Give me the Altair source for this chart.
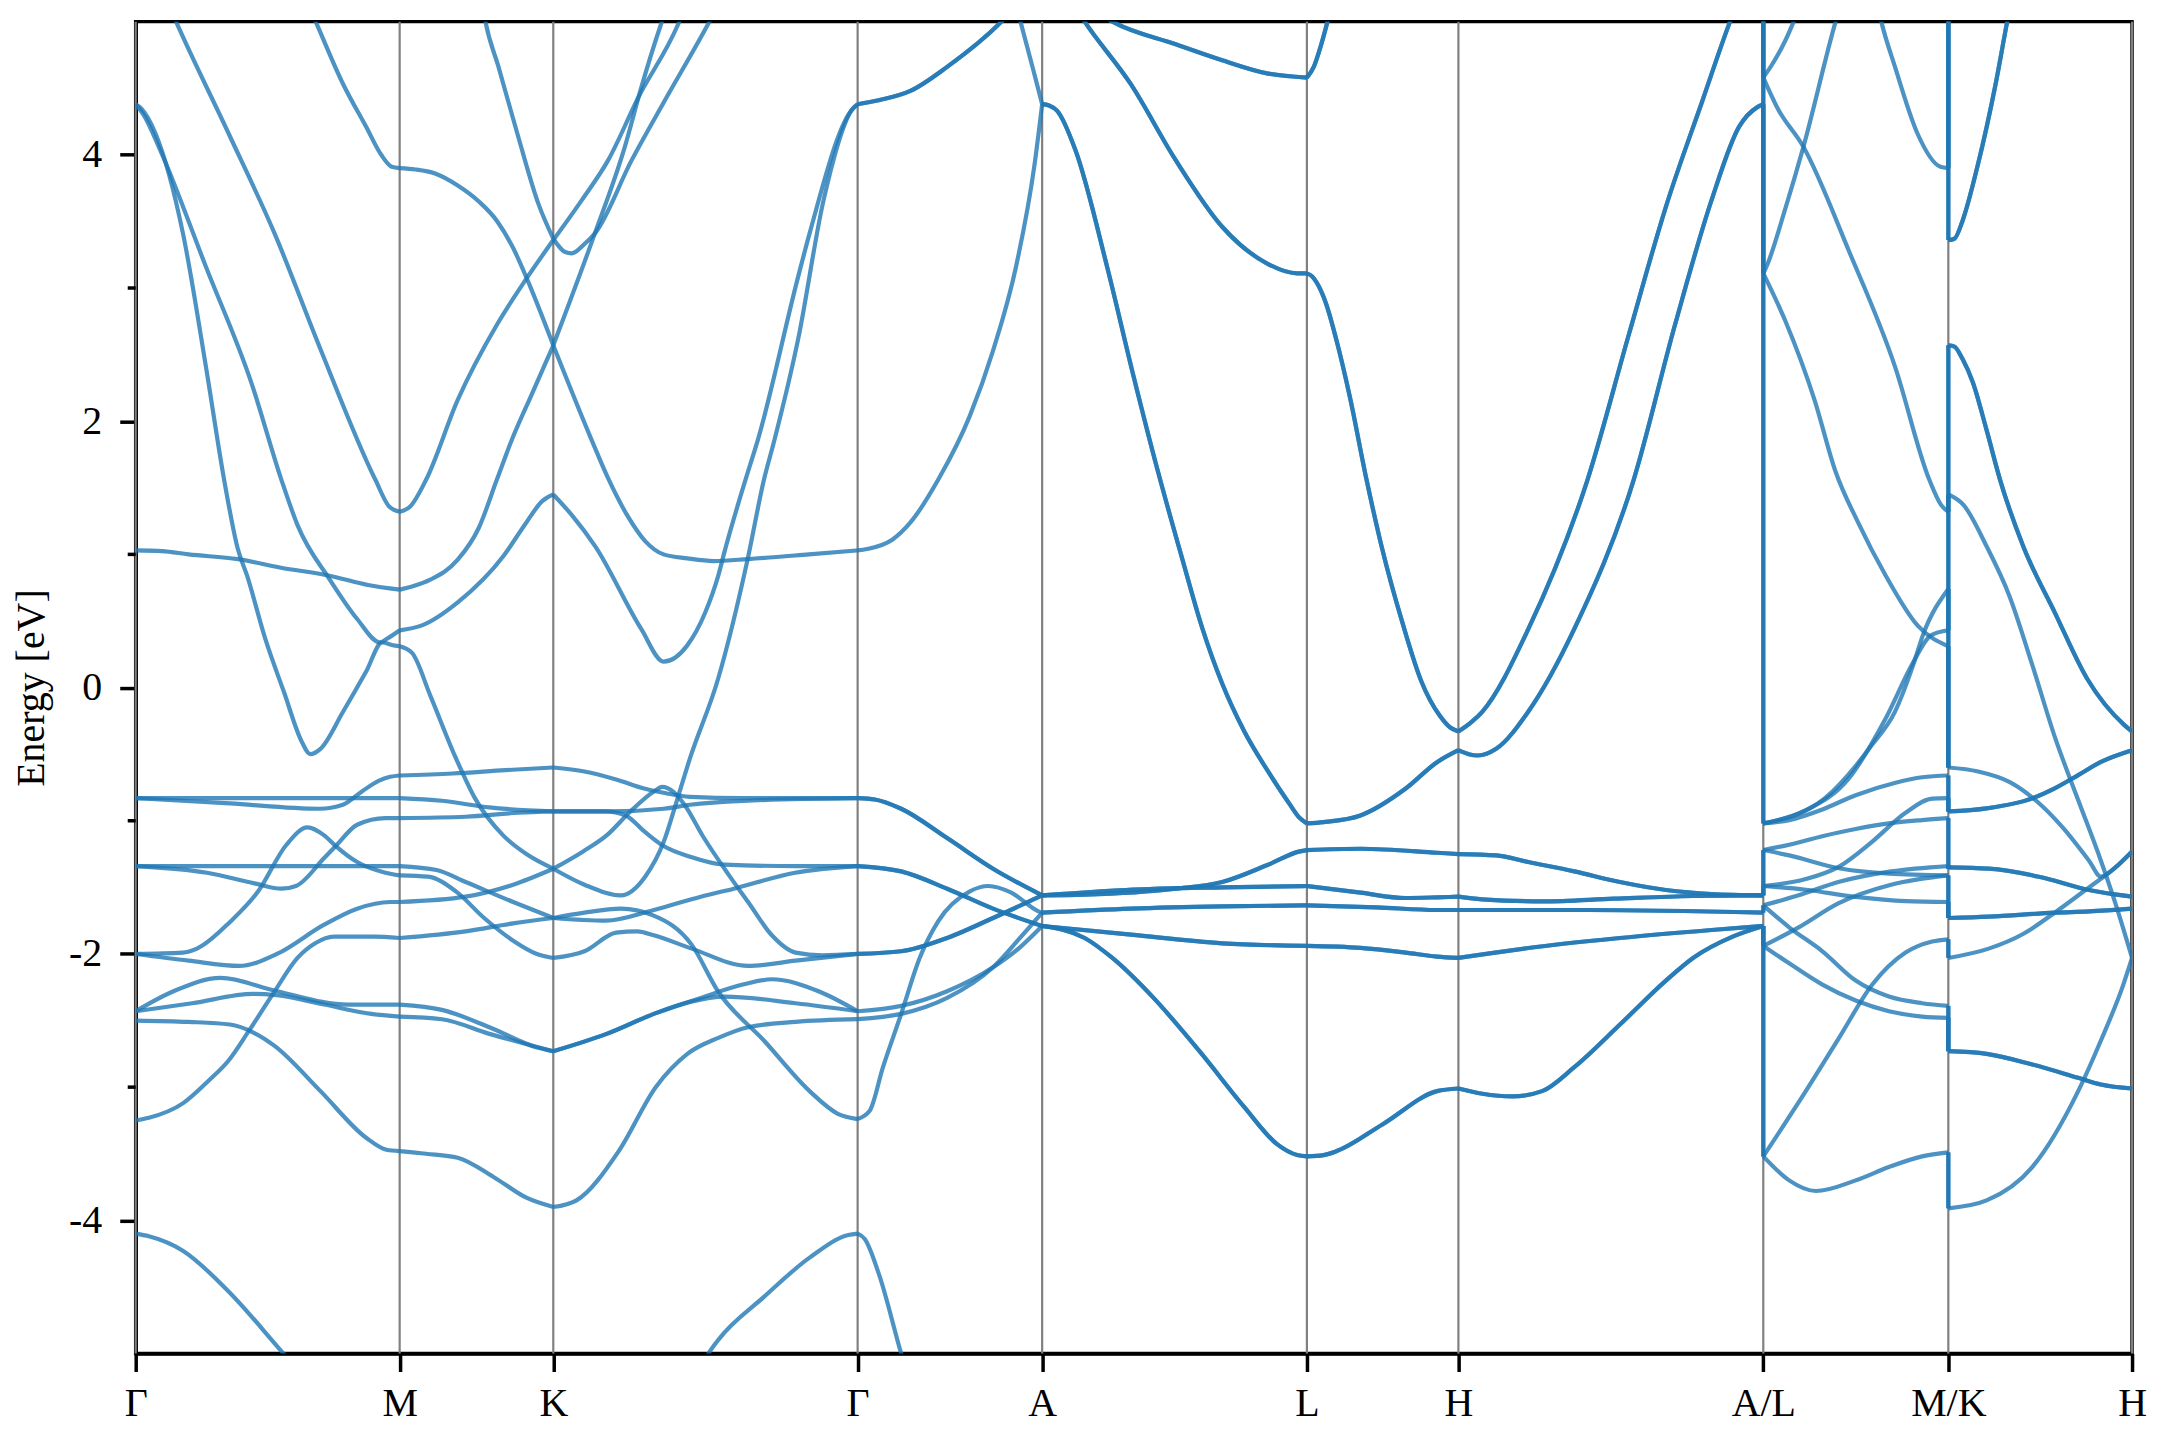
import altair as alt
import pandas as pd

# ---------------- high-symmetry path ----------------
TICK_POS = [0.0, 1.0, 1.582, 2.735, 3.434, 4.437, 5.011, 6.166, 6.867, 7.563]
TICK_LABELS = ["Γ", "M", "K", "Γ", "A", "L", "H", "A/L", "M/K", "H"]
Y_MAJOR = [-4, -2, 0, 2, 4]
Y_MINOR = [-3, -1, 1, 3]

# each band piece: (degeneracy, [(k, E), ...])
GAMMA_M = [
    (1, [(0, 4.38), (0.02, 4.35), (0.075, 4.16), (0.179, 3.41), (0.266, 2.41), (0.335, 1.56), (0.387, 1.04), (0.422, 0.84), (0.491, 0.365), (0.561, -0.03), (0.63, -0.41), (0.661, -0.5), (0.70, -0.46), (0.786, -0.18), (0.873, 0.12), (0.934, 0.34), (0.97, 0.32), (1.0, 0.31)]),
    (1, [(0, 4.38), (0.03, 4.3), (0.094, 4.03), (0.266, 3.16), (0.438, 2.29), (0.552, 1.56), (0.613, 1.22), (0.734, 0.815), (0.839, 0.515), (0.925, 0.34), (0.955, 0.37), (1.0, 0.43)]),
    (1, [(0.12, 5.15), (0.153, 5.0), (0.352, 4.16), (0.526, 3.41), (0.70, 2.54), (0.908, 1.56), (0.96, 1.36), (1.0, 1.32)]),
    (1, [(0.64, 5.19), (0.682, 5.0), (0.786, 4.53), (0.873, 4.21), (0.93, 4.0), (0.97, 3.91), (1.0, 3.9)]),
    (1, [(0, 1.03), (0.1, 1.025), (0.2, 1.0), (0.387, 0.964), (0.55, 0.9), (0.734, 0.84), (0.88, 0.77), (1.0, 0.735)]),
    (1, [(0, -0.83), (0.5, -0.83), (1.0, -0.83)]),
    (1, [(0, -0.83), (0.357, -0.87), (0.696, -0.91), (0.785, -0.88), (0.857, -0.78), (0.92, -0.7), (0.964, -0.67), (1.0, -0.66)]),
    (1, [(0, -1.34), (0.5, -1.34), (1.0, -1.34)]),
    (1, [(0, -1.34), (0.27, -1.39), (0.45, -1.47), (0.553, -1.51), (0.607, -1.49), (0.714, -1.28), (0.758, -1.19), (0.839, -1.03), (0.946, -0.98), (1.0, -0.98)]),
    (1, [(0, -2.0), (0.178, -1.99), (0.232, -1.96), (0.357, -1.76), (0.464, -1.53), (0.571, -1.18), (0.651, -1.05), (0.714, -1.11), (0.758, -1.19), (0.839, -1.31), (0.946, -1.39), (1.0, -1.41)]),
    (1, [(0, -2.0), (0.2, -2.05), (0.393, -2.09), (0.535, -2.0), (0.714, -1.78), (0.839, -1.66), (0.964, -1.61), (1.0, -1.61)]),
    (1, [(0, -2.43), (0.143, -2.28), (0.321, -2.18), (0.535, -2.28), (0.803, -2.38), (1.0, -2.38)]),
    (1, [(0, -2.43), (0.214, -2.37), (0.446, -2.30), (0.535, -2.31), (0.714, -2.38), (0.892, -2.45), (1.0, -2.47)]),
    (1, [(0, -2.5), (0.2, -2.51), (0.357, -2.53), (0.446, -2.59), (0.526, -2.69), (0.70, -3.03), (0.873, -3.38), (0.95, -3.47), (1.0, -3.48)]),
    (1, [(0, -3.25), (0.05, -3.23), (0.18, -3.12), (0.277, -2.95), (0.352, -2.8), (0.428, -2.58), (0.52, -2.3), (0.613, -2.03), (0.68, -1.92), (0.75, -1.87), (0.9, -1.87), (1.0, -1.88)]),
    (1, [(0, -4.1), (0.05, -4.12), (0.18, -4.23), (0.35, -4.53), (0.56, -5.0), (0.65, -5.2)]),
]

M_K = [
    (1, [(1.0, 3.9), (1.06, 3.89), (1.134, 3.86), (1.22, 3.77), (1.30, 3.65), (1.37, 3.5), (1.43, 3.3), (1.48, 3.08), (1.582, 2.57)]),
    (1, [(1.0, 1.32), (1.04, 1.36), (1.1, 1.56), (1.22, 2.16), (1.37, 2.73), (1.48, 3.07), (1.582, 3.36)]),
    (1, [(1.0, 0.735), (1.05, 0.76), (1.116, 0.81), (1.22, 0.96), (1.30, 1.2), (1.368, 1.56), (1.425, 1.86), (1.5, 2.2), (1.582, 2.57)]),
    (1, [(1.0, 0.43), (1.082, 0.465), (1.22, 0.64), (1.394, 0.99), (1.48, 1.24), (1.54, 1.4), (1.582, 1.45)]),
    (1, [(1.0, 0.31), (1.047, 0.26), (1.116, -0.06), (1.213, -0.53), (1.285, -0.83), (1.392, -1.11), (1.48, -1.25), (1.582, -1.36)]),
    (1, [(1.0, -0.66), (1.2, -0.645), (1.4, -0.62), (1.582, -0.60)]),
    (1, [(1.0, -0.83), (1.16, -0.85), (1.34, -0.9), (1.582, -0.93)]),
    (1, [(1.0, -0.98), (1.25, -0.97), (1.45, -0.94), (1.582, -0.93)]),
    (1, [(1.0, -1.34), (1.14, -1.37), (1.25, -1.46), (1.43, -1.61), (1.582, -1.73)]),
    (1, [(1.0, -1.41), (1.107, -1.42), (1.213, -1.53), (1.32, -1.73), (1.43, -1.9), (1.52, -2.0), (1.582, -2.03)]),
    (1, [(1.0, -1.61), (1.25, -1.57), (1.43, -1.48), (1.582, -1.36)]),
    (1, [(1.0, -1.88), (1.25, -1.83), (1.43, -1.77), (1.582, -1.73)]),
    (1, [(1.0, -2.38), (1.16, -2.42), (1.34, -2.55), (1.517, -2.70), (1.582, -2.73)]),
    (1, [(1.0, -2.47), (1.16, -2.49), (1.34, -2.6), (1.582, -2.73)]),
    (1, [(1.0, -3.48), (1.1, -3.5), (1.22, -3.53), (1.36, -3.68), (1.48, -3.83), (1.582, -3.90)]),
    (1, [(1.30, 5.3), (1.325, 5.0), (1.3745, 4.66), (1.45, 4.13), (1.526, 3.63), (1.582, 3.37)]),
]

K_GAMMA = [
    (1, [(1.582, 3.37), (1.627, 3.27), (1.652, 3.26), (1.70, 3.33), (1.74, 3.41), (1.879, 3.96), (2.005, 4.41), (2.168, 4.98), (2.2, 5.1)]),
    (1, [(1.582, 3.36), (1.69, 3.66), (1.79, 3.96), (1.904, 4.43), (2.055, 4.98), (2.08, 5.1)]),
    (1, [(1.582, 2.57), (1.727, 1.86), (1.79, 1.57), (1.86, 1.3), (1.93, 1.1), (2.0, 1.0), (2.09, 0.97), (2.19, 0.95), (2.32, 0.965), (2.55, 1.0), (2.735, 1.03)]),
    (1, [(1.582, 2.57), (1.734, 3.38), (1.853, 4.06), (1.916, 4.51), (1.99, 4.98), (2.02, 5.15)]),
    (1, [(1.582, 1.45), (1.65, 1.3), (1.741, 1.06), (1.915, 0.44), (2.0, 0.195), (2.089, 0.315), (2.158, 0.565), (2.207, 0.84), (2.232, 1.03), (2.31, 1.56), (2.357, 1.86), (2.509, 3.08), (2.553, 3.41), (2.71, 4.33), (2.735, 4.38)]),
    (1, [(1.582, -1.36), (1.70, -1.48), (1.838, -1.56), (1.93, -1.42), (2.0, -1.16), (2.05, -0.85), (2.1, -0.53), (2.207, 0.07), (2.319, 0.97), (2.38, 1.56), (2.42, 1.86), (2.509, 2.61), (2.606, 3.66), (2.718, 4.35), (2.735, 4.38)]),
    (1, [(1.582, -0.60), (1.7, -0.63), (1.82, -0.69), (1.93, -0.76), (2.0, -0.79), (2.1, -0.82), (2.3, -0.83), (2.735, -0.83)]),
    (1, [(1.582, -0.93), (1.8, -0.93), (2.0, -0.91), (2.1, -0.88), (2.3, -0.85), (2.735, -0.83)]),
    (1, [(1.582, -0.93), (1.78, -0.93), (1.856, -0.96), (1.927, -1.08), (2.0, -1.19), (2.1, -1.27), (2.23, -1.33), (2.5, -1.34), (2.735, -1.34)]),
    (1, [(1.582, -1.36), (1.695, -1.23), (1.784, -1.11), (1.874, -0.93), (1.963, -0.78), (1.995, -0.745), (2.035, -0.78), (2.079, -0.88), (2.15, -1.12), (2.248, -1.41), (2.32, -1.61), (2.41, -1.86), (2.5, -1.99), (2.6, -2.01), (2.735, -2.0)]),
    (1, [(1.582, -1.73), (1.78, -1.75), (1.963, -1.67), (2.141, -1.57), (2.266, -1.51), (2.498, -1.39), (2.735, -1.34)]),
    (1, [(1.582, -1.73), (1.7, -1.69), (1.838, -1.66), (1.96, -1.71), (2.106, -1.93), (2.206, -2.28), (2.38, -2.65), (2.553, -3.03), (2.66, -3.2), (2.735, -3.24)]),
    (1, [(1.582, -2.03), (1.7, -1.98), (1.82, -1.84), (1.90, -1.83), (1.963, -1.86), (2.106, -1.96), (2.32, -2.09), (2.5, -2.05), (2.735, -2.0)]),
    (1, [(1.582, -2.73), (1.784, -2.60), (1.963, -2.45), (2.1, -2.36), (2.23, -2.32), (2.5, -2.37), (2.735, -2.43)]),
    (1, [(1.582, -2.73), (1.784, -2.6), (1.963, -2.45), (2.141, -2.33), (2.3, -2.23), (2.41, -2.19), (2.587, -2.28), (2.735, -2.43)]),
    (1, [(1.582, -3.90), (1.67, -3.85), (1.83, -3.48), (1.97, -3.0), (2.09, -2.75), (2.207, -2.63), (2.32, -2.55), (2.5, -2.51), (2.735, -2.49)]),
    (1, [(2.12, -5.2), (2.17, -5.0), (2.206, -4.9), (2.38, -4.575), (2.553, -4.28), (2.70, -4.11), (2.735, -4.1)]),
]

GAMMA_A = [
    (2, [(2.735, 4.38), (2.815, 4.41), (2.935, 4.48), (3.074, 4.66), (3.28, 5.0), (3.434, 5.35)]),
    (1, [(3.31, 5.3), (3.352, 5.0), (3.40, 4.64), (3.434, 4.38)]),
    (1, [(2.735, 1.03), (2.77, 1.04), (2.866, 1.11), (2.935, 1.24), (3.04, 1.56), (3.16, 2.04), (3.248, 2.53), (3.335, 3.16), (3.404, 3.91), (3.434, 4.38)]),
    (2, [(2.735, -0.83), (2.8, -0.84), (2.9, -0.91), (3.074, -1.13), (3.248, -1.36), (3.434, -1.56)]),
    (2, [(2.735, -1.34), (2.9, -1.38), (3.074, -1.51), (3.248, -1.66), (3.434, -1.79)]),
    (2, [(2.735, -2.0), (2.9, -1.98), (3.074, -1.88), (3.248, -1.73), (3.434, -1.56)]),
    (1, [(2.735, -2.43), (2.9, -2.39), (3.074, -2.28), (3.248, -2.1), (3.35, -1.95), (3.434, -1.79)]),
    (1, [(2.735, -2.49), (2.9, -2.45), (3.074, -2.33), (3.248, -2.1), (3.35, -1.88), (3.434, -1.69)]),
    (1, [(2.735, -3.24), (2.78, -3.18), (2.831, -2.85), (2.9, -2.45), (2.97, -2.03), (3.04, -1.755), (3.16, -1.53), (3.23, -1.49), (3.317, -1.54), (3.42, -1.68), (3.434, -1.69)]),
    (1, [(2.735, -4.1), (2.762, -4.14), (2.815, -4.4), (2.9, -5.0), (2.93, -5.2)]),
]

A_L = [
    (2, [(3.434, 4.38), (3.46, 4.37), (3.491, 4.33), (3.561, 4.03), (3.68, 3.16), (3.78, 2.34), (3.873, 1.62), (3.96, 1.0), (4.04, 0.45), (4.116, 0.03), (4.2, -0.33), (4.29, -0.63), (4.37, -0.87), (4.41, -0.98), (4.437, -1.02)]),
    (2, [(3.434, 5.45), (3.55, 5.2), (3.70, 5.0), (3.94, 4.83), (4.116, 4.71), (4.29, 4.61), (4.437, 4.58)]),
    (2, [(3.434, 5.5), (3.50, 5.3), (3.595, 5.0), (3.77, 4.53), (3.94, 3.96), (4.116, 3.46), (4.29, 3.18), (4.40, 3.11), (4.437, 3.11)]),
    (2, [(3.434, -1.56), (3.595, -1.555), (3.94, -1.51), (4.116, -1.46), (4.29, -1.33), (4.41, -1.23), (4.437, -1.22)]),
    (2, [(3.434, -1.56), (3.75, -1.52), (4.116, -1.5), (4.437, -1.49)]),
    (2, [(3.434, -1.69), (3.77, -1.66), (4.116, -1.643), (4.437, -1.635)]),
    (2, [(3.434, -1.79), (3.77, -1.855), (4.116, -1.92), (4.437, -1.94)]),
    (2, [(3.434, -1.79), (3.595, -1.88), (3.70, -2.03), (3.856, -2.33), (4.03, -2.73), (4.2, -3.15), (4.325, -3.43), (4.40, -3.51), (4.437, -3.52)]),
]

L_H = [
    (2, [(4.437, 4.58), (4.463, 4.66), (4.49, 4.82), (4.515, 5.0), (4.54, 5.2)]),
    (2, [(4.437, 3.11), (4.455, 3.09), (4.48, 3.02), (4.51, 2.88), (4.55, 2.6), (4.6, 2.18), (4.663, 1.56), (4.72, 1.06), (4.8, 0.48), (4.87, 0.05), (4.94, -0.21), (4.98, -0.3), (5.011, -0.33)]),
    (2, [(4.437, -1.02), (4.5, -1.01), (4.64, -0.96), (4.81, -0.76), (4.93, -0.56), (5.011, -0.47)]),
    (2, [(4.437, -1.22), (4.64, -1.21), (4.93, -1.24), (5.011, -1.25)]),
    (2, [(4.437, -1.49), (4.64, -1.54), (4.81, -1.58), (4.93, -1.575), (5.011, -1.57)]),
    (2, [(4.437, -1.635), (4.7, -1.65), (4.93, -1.67), (5.011, -1.67)]),
    (2, [(4.437, -1.94), (4.64, -1.955), (4.81, -1.99), (4.93, -2.02), (5.011, -2.03)]),
    (2, [(4.437, -3.52), (4.50, -3.51), (4.55, -3.48), (4.723, -3.28), (4.93, -3.03), (5.011, -3.01)]),
]

H_A = [
    (2, [(5.011, -0.33), (5.06, -0.26), (5.102, -0.18), (5.276, 0.44), (5.5, 1.56), (5.658, 2.66), (5.797, 3.61), (5.936, 4.41), (6.04, 5.0), (6.1, 5.3)]),
    (2, [(5.011, -0.47), (5.05, -0.5), (5.085, -0.51), (5.154, -0.46), (5.276, -0.18), (5.45, 0.44), (5.675, 1.56), (5.831, 2.72), (5.97, 3.66), (6.074, 4.21), (6.145, 4.36), (6.166, 4.38)]),
    (2, [(5.011, -1.25), (5.154, -1.26), (5.276, -1.31), (5.45, -1.38), (5.623, -1.46), (5.797, -1.52), (5.97, -1.55), (6.166, -1.56)]),
    (2, [(5.011, -1.57), (5.1, -1.59), (5.33, -1.605), (5.6, -1.585), (5.9, -1.565), (6.166, -1.56)]),
    (2, [(5.011, -1.67), (5.5, -1.67), (6.166, -1.69)]),
    (2, [(5.011, -2.03), (5.15, -1.99), (5.276, -1.955), (5.623, -1.88), (5.97, -1.82), (6.166, -1.79)]),
    (2, [(5.011, -3.01), (5.102, -3.05), (5.215, -3.07), (5.328, -3.03), (5.45, -2.85), (5.623, -2.53), (5.797, -2.2), (5.9, -2.03), (6.05, -1.87), (6.166, -1.79)]),
]

L_M = [
    (1, [(6.166, 4.58), (6.2, 4.68), (6.25, 4.86), (6.281, 5.0), (6.32, 5.2)]),
    (1, [(6.166, 4.58), (6.22, 4.35), (6.318, 4.06), (6.49, 3.28), (6.665, 2.41), (6.795, 1.56), (6.84, 1.37), (6.867, 1.32)]),
    (1, [(6.166, 3.11), (6.178, 3.16), (6.25, 3.6), (6.318, 4.06), (6.44, 5.0), (6.47, 5.2)]),
    (1, [(6.166, 3.11), (6.25, 2.75), (6.36, 2.16), (6.44, 1.62), (6.525, 1.24), (6.63, 0.84), (6.751, 0.465), (6.867, 0.31)]),
    (1, [(6.59, 5.2), (6.613, 5.0), (6.665, 4.66), (6.75, 4.16), (6.837, 3.91), (6.867, 3.9)]),
    (1, [(6.166, -1.02), (6.4, -0.83), (6.578, -0.43), (6.665, -0.18), (6.734, 0.17), (6.77, 0.39), (6.867, 0.74)]),
    (1, [(6.166, -1.02), (6.317, -0.93), (6.491, -0.68), (6.63, -0.23), (6.734, 0.19), (6.8, 0.39), (6.867, 0.43)]),
    (1, [(6.166, -1.02), (6.264, -0.995), (6.39, -0.915), (6.516, -0.808), (6.667, -0.714), (6.768, -0.673), (6.867, -0.66)]),
    (1, [(6.166, -1.22), (6.264, -1.18), (6.39, -1.116), (6.516, -1.062), (6.642, -1.02), (6.768, -0.995), (6.867, -0.98)]),
    (1, [(6.166, -1.22), (6.264, -1.26), (6.453, -1.357), (6.642, -1.397), (6.867, -1.41)]),
    (1, [(6.166, -1.49), (6.327, -1.438), (6.453, -1.344), (6.579, -1.156), (6.705, -0.94), (6.806, -0.834), (6.867, -0.83)]),
    (1, [(6.166, -1.49), (6.327, -1.518), (6.516, -1.572), (6.705, -1.604), (6.867, -1.61)]),
    (1, [(6.166, -1.635), (6.264, -1.8), (6.39, -1.98), (6.516, -2.2), (6.642, -2.32), (6.768, -2.37), (6.867, -2.39)]),
    (1, [(6.166, -1.94), (6.264, -2.07), (6.39, -2.23), (6.516, -2.35), (6.642, -2.43), (6.768, -2.47), (6.867, -2.48)]),
    (1, [(6.166, -1.635), (6.3, -1.56), (6.45, -1.46), (6.65, -1.38), (6.867, -1.34)]),
    (1, [(6.166, -1.94), (6.3, -1.8), (6.45, -1.62), (6.65, -1.48), (6.867, -1.41)]),
    (1, [(6.166, -3.52), (6.327, -3.03), (6.453, -2.63), (6.579, -2.23), (6.705, -1.99), (6.806, -1.907), (6.867, -1.89)]),
    (1, [(6.166, -3.52), (6.264, -3.70), (6.365, -3.78), (6.516, -3.70), (6.642, -3.60), (6.768, -3.52), (6.867, -3.49)]),
]

K_H = [
    (2, [(6.867, 3.36), (6.89, 3.37), (6.92, 3.5), (6.977, 3.91), (7.046, 4.53), (7.09, 5.0), (7.12, 5.3)]),
    (2, [(6.867, 2.57), (6.89, 2.56), (6.92, 2.47), (6.96, 2.29), (7.011, 1.94), (7.063, 1.56), (7.151, 1.06), (7.27, 0.565), (7.393, 0.066), (7.533, -0.28), (7.563, -0.33)]),
    (1, [(6.867, 1.45), (6.925, 1.37), (7.012, 1.06), (7.098, 0.69), (7.185, 0.17), (7.272, -0.38), (7.36, -0.85), (7.445, -1.3), (7.5, -1.62), (7.563, -2.03)]),
    (1, [(6.867, -0.60), (6.98, -0.63), (7.1, -0.71), (7.2, -0.85), (7.3, -1.05), (7.4, -1.3), (7.445, -1.42), (7.5, -1.35), (7.563, -1.23)]),
    (2, [(6.867, -0.93), (7.012, -0.907), (7.185, -0.832), (7.27, -0.757), (7.359, -0.657), (7.445, -0.558), (7.563, -0.47)]),
    (2, [(6.867, -1.35), (7.02, -1.36), (7.21, -1.42), (7.4, -1.52), (7.563, -1.57)]),
    (2, [(6.867, -1.73), (7.02, -1.72), (7.27, -1.69), (7.4, -1.68), (7.563, -1.66)]),
    (1, [(6.867, -2.03), (7.02, -1.96), (7.15, -1.85), (7.27, -1.69), (7.4, -1.5), (7.5, -1.35), (7.563, -1.23)]),
    (2, [(6.867, -2.73), (7.012, -2.75), (7.185, -2.83), (7.359, -2.93), (7.445, -2.98), (7.563, -3.01)]),
    (1, [(6.867, -3.91), (7.012, -3.85), (7.185, -3.60), (7.359, -3.03), (7.445, -2.65), (7.53, -2.23), (7.563, -2.03)]),
]

# band connections across the path discontinuities (value before, value after)
JUMP_AL = [(5.5, 4.58), (5.45, 3.11), (4.38, -1.02), (-1.56, -1.22), (-1.56, -1.49),
           (-1.69, -1.635), (-1.79, -1.94), (-1.79, -3.52)]
JUMP_MK = [(3.9, 5.5), (5.5, 3.36), (1.32, 2.57), (0.74, -0.60), (0.43, 1.45), (0.31, -0.60),
           (-0.66, -0.93), (-0.83, -0.93), (-0.98, -1.36), (-1.34, -1.36), (-1.41, -1.73),
           (-1.61, -1.73), (-1.89, -2.03), (-2.39, -2.73), (-2.48, -2.73), (-3.49, -3.91)]

# ---------------- tables ----------------
SEGMENTS = [("GM", GAMMA_M), ("MK", M_K), ("KG", K_GAMMA), ("GA", GAMMA_A), ("AL", A_L),
            ("LH", L_H), ("HA", H_A), ("LM", L_M), ("KH", K_H)]
rows = []
for name, seg in SEGMENTS:
    for i, (mult, pts) in enumerate(seg):
        for m in range(mult):
            cid = f"{name}_{i}_{m}"
            for k, e in pts:
                rows.append({"k": k, "E": e, "id": cid})
bands = pd.DataFrame(rows)

jrows = []
for kpos, jumps in ((TICK_POS[7], JUMP_AL), (TICK_POS[8], JUMP_MK)):
    for a, b in jumps:
        for m in range(2):
            jrows.append({"k": kpos, "E1": a, "E2": b})
jumps_df = pd.DataFrame(jrows)

vlines_df = pd.DataFrame({"k": TICK_POS})
minor_df = pd.DataFrame({"v": Y_MINOR})

# ---------------- chart ----------------
FONT = "Liberation Serif"
XS = alt.Scale(domain=[0, TICK_POS[-1]], nice=False, zero=False)
YS = alt.Scale(domain=[-5, 5], nice=False, zero=False)
label_expr = " : ".join(f"abs(datum.value - {p}) < 0.002 ? '{l}'" for p, l in zip(TICK_POS, TICK_LABELS)) + " : ''"
X_AX = alt.Axis(values=TICK_POS, labelExpr=label_expr, title=None, tickSize=18, labelPadding=12,
                labelFontSize=40, labelFont=FONT, labelFlush=False, labelOverlap=False,
                grid=False, labelAngle=0)
Y_AX = alt.Axis(values=Y_MAJOR, labelExpr="(datum.value < 0 ? '-' : '') + abs(datum.value)",
                title="Energy [eV]", tickSize=16, labelPadding=18, labelFontSize=40, labelFont=FONT,
                titleFont=FONT, titleFontSize=40, titleFontWeight="normal", titlePadding=17,
                grid=False, labelFlush=False, labelOverlap=False)

BLUE = "#1f77b4"
LW = 4.2

vlines = alt.Chart(vlines_df).mark_rule(color="#808080", strokeWidth=2.2).encode(
    x=alt.X("k:Q", scale=XS, axis=X_AX)
)

band_lines = alt.Chart(bands).mark_line(
    interpolate="monotone", clip=True, color=BLUE, strokeWidth=LW, strokeOpacity=0.8
).encode(
    x=alt.X("k:Q", scale=XS, axis=X_AX),
    y=alt.Y("E:Q", scale=YS, axis=Y_AX),
    detail="id:N",
)

jump_lines = alt.Chart(jumps_df).mark_rule(
    clip=True, color=BLUE, strokeWidth=LW, strokeOpacity=0.8
).encode(
    x=alt.X("k:Q", scale=XS, axis=X_AX),
    y=alt.Y("E1:Q", scale=YS, axis=Y_AX),
    y2="E2:Q",
)

minor_ticks = alt.Chart(minor_df).mark_rule(color="black", strokeWidth=3.5).encode(
    y=alt.Y("v:Q", scale=YS, axis=Y_AX),
    x=alt.value(-8),
    x2=alt.value(0),
)

chart = alt.layer(vlines, band_lines, jump_lines, minor_ticks).properties(
    width=2001,
    height=1335,
    autosize=alt.AutoSizeParams(type="none"),
    padding={"left": 128, "top": 12, "right": 20, "bottom": 75},
).configure_view(
    stroke="black", strokeWidth=3.5
).configure_axis(
    domainColor="black", domainWidth=3.5, tickColor="black", tickWidth=3.5,
    labelColor="black", titleColor="black",
    labelFont=FONT, titleFont=FONT,
)

chart.save("out.html", embed_options={"renderer": "svg", "actions": False})
